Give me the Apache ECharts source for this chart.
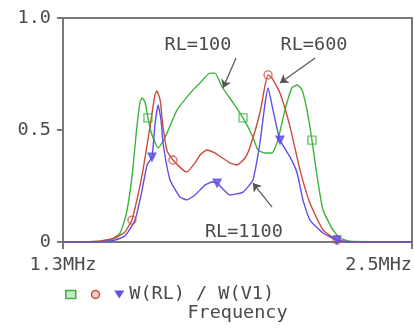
<!DOCTYPE html>
<html><head><meta charset="utf-8">
<script src="https://cdn.jsdelivr.net/npm/echarts@6/dist/echarts.min.js"></script>
<style>html,body{margin:0;padding:0;background:#fff}#c{width:414px;height:329px}</style>
</head><body><div id="c"></div>
<script>
// Frequencies (MHz) and values for each trace
const greenFreq = [1.300,1.427,1.468,1.496,1.517,1.537,1.554,1.565,1.572,1.582,1.592,1.606,1.627,1.640,1.658,1.692,1.747,1.771,1.805,1.823,1.847,1.885,1.919,1.953,1.970,1.995,2.019,2.039,2.063,2.087,2.105,2.122,2.139,2.156,2.173,2.194,2.228,2.252,2.287,2.500];
const greenVal  = [0,0.004,0.013,0.040,0.121,0.290,0.513,0.625,0.643,0.625,0.554,0.478,0.420,0.442,0.487,0.589,0.679,0.710,0.754,0.754,0.692,0.621,0.554,0.469,0.411,0.397,0.397,0.455,0.589,0.688,0.701,0.679,0.589,0.455,0.299,0.143,0.054,0.018,0.004,0];
const redFreq = [1.300,1.427,1.479,1.513,1.537,1.558,1.575,1.599,1.616,1.623,1.634,1.644,1.658,1.678,1.713,1.726,1.754,1.771,1.795,1.823,1.874,1.898,1.926,1.943,1.977,1.995,2.005,2.019,2.046,2.081,2.115,2.149,2.194,2.242,2.287,2.500];
const redVal  = [0,0.004,0.018,0.045,0.098,0.210,0.321,0.513,0.656,0.674,0.634,0.513,0.406,0.366,0.321,0.313,0.353,0.388,0.411,0.397,0.353,0.344,0.375,0.424,0.576,0.701,0.746,0.732,0.665,0.513,0.321,0.174,0.054,0.009,0,0];
const blueFreq = [1.300,1.427,1.479,1.513,1.548,1.572,1.589,1.606,1.616,1.627,1.637,1.644,1.668,1.702,1.726,1.754,1.788,1.812,1.830,1.874,1.919,1.953,1.977,1.995,2.005,2.022,2.046,2.081,2.105,2.125,2.149,2.194,2.242,2.287,2.500];
const blueVal  = [0,0,0.009,0.027,0.098,0.232,0.344,0.379,0.522,0.612,0.545,0.442,0.277,0.201,0.188,0.210,0.254,0.268,0.263,0.210,0.223,0.277,0.442,0.621,0.688,0.589,0.455,0.379,0.308,0.188,0.098,0.040,0.009,0,0];
// indices of the points that carry trace markers
const greenMarks = [10,22,33];
const redMarks = [4,13,26,33];
const blueMarks = [7,18,26,32];
const xTicks = [1.3, 2.5];
const xTickLabels = ['1.3MHz','2.5MHz'];
const yTicks = [0, 0.5, 1.0];
const yTickLabels = ['0','0.5','1.0'];
const legendText = 'W(RL) / W(V1)';
const xName = 'Frequency';
const notes = [
  {text:'RL=100',  at:[1.764,0.879], from:[1.895,0.821], to:[1.850,0.688]},
  {text:'RL=600',  at:[2.163,0.879], from:[2.167,0.821], to:[2.046,0.710]},
  {text:'RL=1100', at:[1.922,0.045], from:[2.019,0.156], to:[1.953,0.263]}
];

const FONT = 'DejaVu Sans Mono';
const FS = 18.5;
const TXT = '#4a4a4a';
const AX = '#7a7a7a';
const GREEN = '#3cb43c', RED = '#cc4b3c', BLUE = '#5e4fe6';
const pairs = (f,v) => f.map((x,i)=>[x,v[i]]);
const gData = pairs(greenFreq, greenVal), rData = pairs(redFreq, redVal), bData = pairs(blueFreq, blueVal);

const chart = echarts.init(document.getElementById('c'), null, {renderer:'canvas'});
const lineS = (name, data, color) => ({
  name, type:'line', data, symbol:'none', smooth:0.15,
  lineStyle:{color, width:1.4}, itemStyle:{color}, z:3
});
const markS = (data, idx, symbol, color, fill, rot) => ({
  type:'scatter', data: idx.map(i=>data[i]), symbol, symbolSize:8, symbolRotate:rot||0,
  itemStyle:{color:fill, borderColor:color, borderWidth:1.3}, z:4, silent:true
});
const annot = {
  type:'line', data:[], silent:true, z:5,
  markPoint:{
    symbol:'circle', symbolSize:0,
    label:{show:true, position:'inside', formatter:p=>p.name, color:TXT, fontFamily:FONT, fontSize:FS},
    data: notes.map(n=>({name:n.text, coord:n.at}))
  },
  markLine:{
    symbol:['none','arrow'], symbolSize:8, label:{show:false},
    lineStyle:{color:'#555', width:1.2, type:'solid'},
    data: notes.map(n=>[{coord:n.from},{coord:n.to}])
  }
};
chart.setOption({
  backgroundColor:'#fff',
  animation:false,
  grid:{left:63, top:18, right:2, bottom:87, outerBoundsMode:'none', containLabel:false,
        show:true, borderColor:AX, borderWidth:2},
  xAxis:{
    type:'value', min:1.3, max:2.5,
    name:xName, nameLocation:'middle', nameGap:62,
    nameTextStyle:{color:TXT, fontFamily:FONT, fontSize:FS},
    axisLine:{show:true, lineStyle:{color:AX, width:2}},
    axisTick:{show:true, customValues:xTicks, length:7, inside:false, lineStyle:{color:AX, width:2}},
    axisLabel:{customValues:xTicks, margin:14, color:TXT, fontFamily:FONT, fontSize:FS,
      formatter:v=>xTickLabels[xTicks.findIndex(t=>Math.abs(t-v)<1e-9)] || '',
      alignMaxLabel:'right'},
    splitLine:{show:false}
  },
  yAxis:{
    type:'value', min:0, max:1, interval:0.5,
    axisLine:{show:true, lineStyle:{color:AX, width:2}},
    axisTick:{show:true, length:6, lineStyle:{color:AX, width:2}},
    axisLabel:{margin:12, color:TXT, fontFamily:FONT, fontSize:FS,
      formatter:v=>yTickLabels[yTicks.findIndex(t=>Math.abs(t-v)<1e-9)]},
    splitLine:{show:false}
  },
  legend:{
    left:60, top:280, itemWidth:10, itemHeight:8, itemGap:14,
    textStyle:{color:TXT, fontFamily:FONT, fontSize:FS},
    formatter:n=>n==='RL=1100'?legendText:'',
    data:[
      {name:'RL=100', icon:'rect', itemStyle:{color:'#c4eac4', borderColor:GREEN, borderWidth:1.5}},
      {name:'RL=600', icon:'circle', itemStyle:{color:'#f4d0c8', borderColor:RED, borderWidth:1.5}},
      {name:'RL=1100', icon:'path://M0,0L10,0L5,8Z', itemStyle:{color:BLUE, borderColor:BLUE, borderWidth:0}}
    ]
  },
  series:[
    lineS('RL=100', gData, GREEN),
    lineS('RL=600', rData, RED),
    lineS('RL=1100', bData, BLUE),
    markS(gData, greenMarks, 'rect', GREEN, 'rgba(255,255,255,0)'),
    markS(rData, redMarks, 'circle', RED, 'rgba(255,255,255,0)'),
    markS(bData, blueMarks, 'triangle', BLUE, BLUE, 180),
    annot
  ]
});
</script></body></html>
